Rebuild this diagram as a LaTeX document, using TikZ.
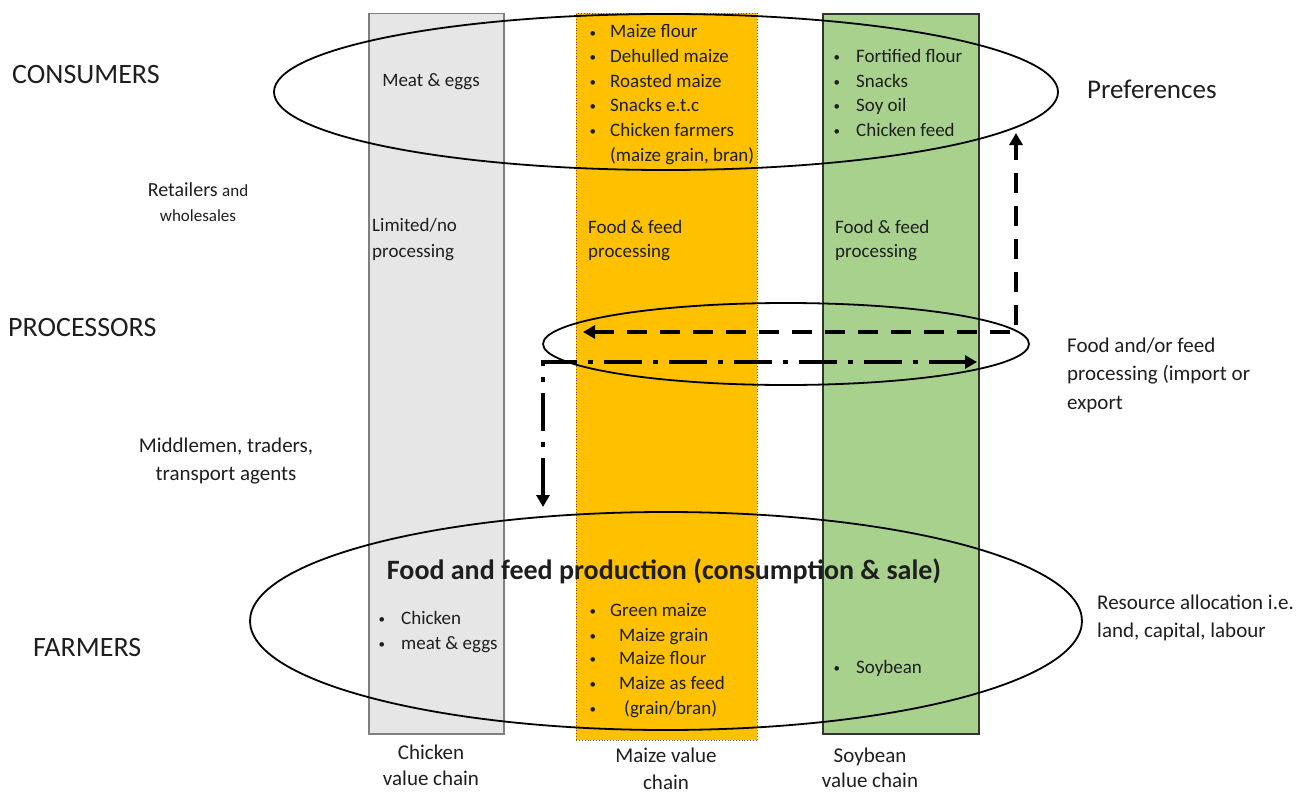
\documentclass[tikz,border=0pt]{standalone}
\usepackage{fontspec}
\setmainfont{Carlito}
\usetikzlibrary{shapes.geometric,arrows.meta}
\definecolor{chickfill}{HTML}{E7E6E6}
\definecolor{chickline}{HTML}{7F7F7F}
\definecolor{maizefill}{HTML}{FFC000}
\definecolor{maizeline}{HTML}{6B5A2A}
\definecolor{soyfill}{HTML}{A9D18E}
\definecolor{soyline}{HTML}{333333}
\definecolor{inktext}{HTML}{1E1E1E}
\newcommand\bulletbox[1]{\makebox[#1][l]{\hspace{1.5pt}\raisebox{1pt}{\fontsize{13}{13}\selectfont\textbullet}}}
\begin{document}
\begin{tikzpicture}[x=1pt,y=-1pt,
  column/.style={rectangle, anchor=north west, inner sep=0pt},
  ring/.style={draw, ellipse, line width=1.8pt, inner sep=0pt},
  tier/.style={anchor=base west, inner sep=0pt, text=inktext, font=\fontsize{28}{34}\selectfont},
  listtext/.style={anchor=base west, inner sep=0pt, text=inktext, font=\fontsize{19}{24}\selectfont},
  sidetext/.style={anchor=base west, inner sep=0pt, text=inktext, font=\fontsize{21}{28}\selectfont},
  captext/.style={anchor=base, inner sep=0pt, text=inktext, font=\fontsize{21}{28}\selectfont},
  flow/.style={line width=3.5pt, {Triangle[length=12pt,width=13pt]}-{Triangle[length=12pt,width=13pt]}},
]
\useasboundingbox (0,0) rectangle (1314,792);

% value-chain columns
\node[column, fill=chickfill, draw=chickline, line width=1.5pt,
      minimum width=135pt, minimum height=720pt] (chickCol) at (368,13) {};
\node[column, fill=maizefill, draw=maizeline, dotted, line width=0.8pt,
      minimum width=181pt, minimum height=727pt] (maizeCol) at (576,13) {};
\node[column, fill=soyfill, draw=soyline, line width=2pt,
      minimum width=156pt, minimum height=720pt] (soyCol) at (822,13) {};

% actor rings
\node[ring, minimum width=784pt, minimum height=156pt] (consRing) at (666,92) {};
\node[ring, minimum width=486pt, minimum height=82pt] (procRing) at (786,344) {};
\node[ring, minimum width=832pt, minimum height=218pt] (farmRing) at (666,621) {};

% flows between processors, consumers and farmers
\coordinate (retTip) at (583,332);
\coordinate (prefTip) at (1016,133);
\draw[flow, dash pattern=on 20pt off 13pt] (retTip) -| (prefTip);
\coordinate (farmTip) at (543,507);
\coordinate (expTip) at (977,362);
\draw[flow, dash pattern=on 38pt off 11pt on 5pt off 11pt] (farmTip) |- (expTip);

% actor levels
\node[tier] (consumers) at (12,84) {CONSUMERS};
\node[tier] (processors) at (8,336) {PROCESSORS};
\node[tier] (farmers) at (33,656) {FARMERS};
\node[tier, font=\fontsize{27}{32}\selectfont] (prefs) at (1087,99) {Preferences};

\node[anchor=base, inner sep=0pt, text=inktext] (retail1) at (198,196)
  {\fontsize{20}{24}\selectfont Retailers \fontsize{17}{20}\selectfont and};
\node[anchor=base, inner sep=0pt, text=inktext, font=\fontsize{17}{20}\selectfont] (retail2) at (198,221) {wholesales};
\node[captext] (middle1) at (226,452) {Middlemen, traders,};
\node[captext] (middle2) at (226,480) {transport agents};

\node[sidetext] (trade1) at (1067,352) {Food and/or feed};
\node[sidetext] (trade2) at (1067,380) {processing (import or};
\node[sidetext] (trade3) at (1067,409) {export};
\node[sidetext] (res1) at (1097,609) {Resource allocation i.e.};
\node[sidetext] (res2) at (1097,637) {land, capital, labour};

% chicken column texts
\node[listtext, anchor=base] (chickCons) at (431,86) {Meat \& eggs};
\node[listtext] (chickProc1) at (372,231) {Limited/no};
\node[listtext] (chickProc2) at (372,257) {processing};
\node[listtext] (chickFarm1) at (377,624) {\bulletbox{24pt}Chicken};
\node[listtext] (chickFarm2) at (377,649) {\bulletbox{24pt}meat \& eggs};

% maize column texts
\node[listtext] (maizeCons1) at (588,38) {\bulletbox{22pt}Maize flour};
\node[listtext] (maizeCons2) at (588,62.6) {\bulletbox{22pt}Dehulled maize};
\node[listtext] (maizeCons3) at (588,87.2) {\bulletbox{22pt}Roasted maize};
\node[listtext] (maizeCons4) at (588,111.8) {\bulletbox{22pt}Snacks e.t.c};
\node[listtext] (maizeCons5) at (588,136.4) {\bulletbox{22pt}Chicken farmers};
\node[listtext] (maizeCons6) at (610,161) {(maize grain, bran)};
\node[listtext] (maizeProc1) at (588,233) {Food \& feed};
\node[listtext] (maizeProc2) at (588,257) {processing};
\node[listtext] (maizeFarm1) at (588,616) {\bulletbox{22pt}Green maize};
\node[listtext] (maizeFarm2) at (588,641) {\bulletbox{31pt}Maize grain};
\node[listtext] (maizeFarm3) at (588,664) {\bulletbox{31pt}Maize flour};
\node[listtext] (maizeFarm4) at (588,689) {\bulletbox{31pt}Maize as feed};
\node[listtext] (maizeFarm5) at (588,714) {\bulletbox{36pt}(grain/bran)};

% soybean column texts
\node[listtext] (soyCons1) at (832,63) {\bulletbox{24pt}Fortified flour};
\node[listtext] (soyCons2) at (832,87) {\bulletbox{24pt}Snacks};
\node[listtext] (soyCons3) at (832,111) {\bulletbox{24pt}Soy oil};
\node[listtext] (soyCons4) at (832,136) {\bulletbox{24pt}Chicken feed};
\node[listtext] (soyProc1) at (835,233) {Food \& feed};
\node[listtext] (soyProc2) at (835,257) {processing};
\node[listtext] (soyFarm) at (832,673) {\bulletbox{24pt}Soybean};

% production heading
\node[anchor=base, inner sep=0pt, text=inktext, font=\bfseries\fontsize{28}{34}\selectfont] (prodHead) at (664,579)
  {Food and feed production (consumption \& sale)};

% column captions
\node[captext] (chickCap1) at (431,759) {Chicken};
\node[captext] (chickCap2) at (431,785) {value chain};
\node[captext] (maizeCap1) at (666,762) {Maize value};
\node[captext] (maizeCap2) at (666,789) {chain};
\node[captext] (soyCap1) at (870,762) {Soybean};
\node[captext] (soyCap2) at (870,787) {value chain};
\end{tikzpicture}
\end{document}
